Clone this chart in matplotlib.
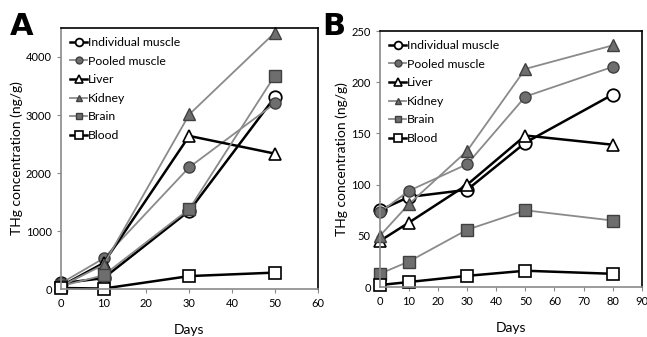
import numpy as np
from matplotlib import pyplot as plt

plt.rcParams['font.family'] = ['Lato', 'DejaVu Sans']

# panel A data
days_a = [0, 10, 30, 50]
ind_a = [100, 190, 1350, 3310]
pool_a = [100, 530, 2100, 3200]
liver_a = [50, 450, 2640, 2335]
kidney_a = [50, 420, 3010, 4420]
brain_a = [50, 240, 1380, 3680]
blood_a = [20, 10, 225, 285]

# panel B data
days_b = [0, 10, 30, 50, 80]
ind_b = [75, 88, 95, 141, 188]
pool_b = [73, 94, 120, 186, 215]
liver_b = [45, 63, 100, 148, 139]
kidney_b = [50, 81, 133, 213, 236]
brain_b = [13, 25, 56, 75, 65]
blood_b = [2, 5, 11, 16, 13]

labels = ["Individual muscle", "Pooled muscle", "Liver", "Kidney", "Brain", "Blood"]

BLK = "black"
GRY = "#8a8a8a"
FILL = "#6e6e6e"
styles = [
    dict(color=BLK, lw=1.8, marker="o", mfc="white", mec=BLK, ms=9, mew=1.3),
    dict(color=GRY, lw=1.3, marker="o", mfc=FILL, mec="#404040", ms=8, mew=1.0),
    dict(color=BLK, lw=1.8, marker="^", mfc="white", mec=BLK, ms=9, mew=1.2),
    dict(color=GRY, lw=1.3, marker="^", mfc=FILL, mec="#404040", ms=8, mew=1.0),
    dict(color=GRY, lw=1.3, marker="s", mfc=FILL, mec="#404040", ms=8, mew=1.0),
    dict(color=BLK, lw=1.8, marker="s", mfc="white", mec=BLK, ms=9, mew=1.2),
]

fig = plt.figure(figsize=(6.47, 3.37), dpi=100)
axA = fig.add_axes([0.094, 0.142, 0.397, 0.775])
axB = fig.add_axes([0.587, 0.148, 0.405, 0.760])


def draw(ax, x, series, xmax, xstep, ymax, ystep):
    for y, lab, st in zip(series, labels, styles):
        ax.plot(x, y, label=lab, clip_on=False, **st)
    ax.set_xlim(0, xmax)
    ax.set_ylim(0, ymax)
    ax.set_xticks(np.arange(0, xmax + 1, xstep))
    ax.set_yticks(np.arange(0, ymax + 1, ystep))
    ax.tick_params(labelsize=8, length=3, color=GRY, width=0.8)
    ax.spines["left"].set_color(GRY)
    ax.spines["bottom"].set_color(GRY)
    for s in ax.spines.values():
        s.set_linewidth(1.2)
    ax.set_xlabel("Days", fontsize=10, labelpad=11)
    ax.set_ylabel("THg concentration (ng/g)", fontsize=10, labelpad=2)
    ax.legend(loc="upper left", frameon=False, fontsize=8.8,
              handlelength=1.4, handletextpad=0.1, labelspacing=0.62,
              borderaxespad=0.35, markerscale=0.62)


draw(axA, days_a, [ind_a, pool_a, liver_a, kidney_a, brain_a, blood_a], 60, 10, 4500, 1000)
axA.set_yticks([0, 1000, 2000, 3000, 4000])
draw(axB, days_b, [ind_b, pool_b, liver_b, kidney_b, brain_b, blood_b], 90, 10, 250, 50)

fig.text(0.015, 0.92, "A", fontsize=22, fontweight="bold", family="DejaVu Sans", va="center")
fig.text(0.498, 0.92, "B", fontsize=22, fontweight="bold", family="DejaVu Sans", va="center")

fig.savefig("out.png", dpi=100)
